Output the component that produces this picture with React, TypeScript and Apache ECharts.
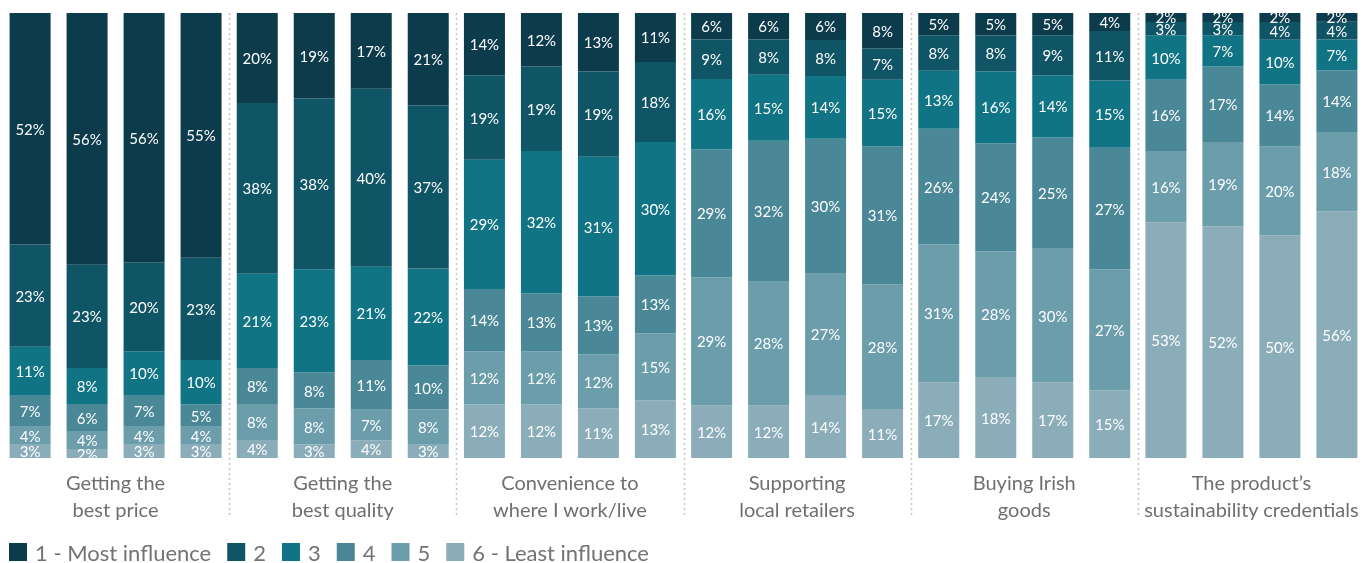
import React, { useEffect, useRef } from "react";
import * as echarts from "echarts";

const categories = [
  "Getting the\nbest price",
  "Getting the\nbest quality",
  "Convenience to\nwhere I work/live",
  "Supporting\nlocal retailers",
  "Buying Irish\ngoods",
  "The product’s\nsustainability credentials",
];

const levelNames = [
  "1 - Most influence",
  "2",
  "3",
  "4",
  "5",
  "6 - Least influence",
];

const levelColors = ["#0c3b4c", "#0f5566", "#107484", "#4a8898", "#6b9dab", "#8badb9"];

// Values per level: 4 bars for each of the 6 categories (in category order)
const level1 = [52, 56, 56, 55, 20, 19, 17, 21, 14, 12, 13, 11, 6, 6, 6, 8, 5, 5, 5, 4, 2, 2, 2, 2];
const level2 = [23, 23, 20, 23, 38, 38, 40, 37, 19, 19, 19, 18, 9, 8, 8, 7, 8, 8, 9, 11, 3, 3, 4, 4];
const level3 = [11, 8, 10, 10, 21, 23, 21, 22, 29, 32, 31, 30, 16, 15, 14, 15, 13, 16, 14, 15, 10, 7, 10, 7];
const level4 = [7, 6, 7, 5, 8, 8, 11, 10, 14, 13, 13, 13, 29, 32, 30, 31, 26, 24, 25, 27, 16, 17, 14, 14];
const level5 = [4, 4, 4, 4, 8, 8, 7, 8, 12, 12, 12, 15, 29, 28, 27, 28, 31, 28, 30, 27, 16, 19, 20, 18];
const level6 = [3, 2, 3, 3, 4, 3, 4, 3, 12, 12, 11, 13, 12, 12, 14, 11, 17, 18, 17, 15, 53, 52, 50, 56];

const levels = [level1, level2, level3, level4, level5, level6];
const barsPerCategory = 4;

export default function App() {
  const ref = useRef<HTMLDivElement>(null);

  useEffect(() => {
    if (!ref.current) return;
    const chart = echarts.init(ref.current, null, { renderer: "svg" });
    const font = "Lato, 'Noto Sans', sans-serif";

    const series: any[] = [];
    for (let w = 0; w < barsPerCategory; w++) {
      // stack order bottom -> top: level 6 ... level 1
      for (let l = levels.length - 1; l >= 0; l--) {
        const data = categories.map((_, g) => {
          const idx = g * barsPerCategory + w;
          const total = levels.reduce((s, arr) => s + arr[idx], 0);
          return { value: (levels[l][idx] / total) * 100, raw: levels[l][idx] };
        });
        series.push({
          type: "bar",
          name: levelNames[l],
          stack: "w" + w,
          barWidth: 41,
          barGap: "39%",
          itemStyle: { color: levelColors[l] },
          label: {
            show: true,
            position: "inside",
            color: "#ffffff",
            fontFamily: font,
            fontSize: 15,
            lineHeight: 15,
            formatter: (p: any) => p.data.raw + "%",
          },
          data,
        });
      }
    }

    chart.setOption({
      animation: false,
      textStyle: { fontFamily: font },
      grid: { left: 2, right: 7, top: 13, bottom: 105, containLabel: false },
      legend: {
        data: levelNames,
        left: 4,
        top: 536,
        icon: "rect",
        itemWidth: 18,
        itemHeight: 18,
        itemGap: 16,
        textStyle: {
          fontSize: 22,
          lineHeight: 20,
          color: "#737373",
          fontFamily: font,
          padding: [0, 0, 0, 3],
        },
      },
      xAxis: {
        type: "category",
        data: categories,
        axisLine: { show: false },
        axisTick: { show: false },
        splitLine: { show: false },
        axisLabel: {
          interval: 0,
          margin: 10,
          color: "#6f6f6f",
          fontSize: 20,
          lineHeight: 27,
          fontFamily: font,
        },
      },
      yAxis: { type: "value", min: 0, max: 100, show: false },
      series,
    });

    // dotted separators between categories, positioned through the axes
    const centers = categories.map((c) => chart.convertToPixel({ xAxisIndex: 0 }, c) as number);
    const yTop = chart.convertToPixel({ yAxisIndex: 0 }, 100) as number;
    const yBase = chart.convertToPixel({ yAxisIndex: 0 }, 0) as number;
    const graphic: any[] = [];
    for (let i = 0; i < centers.length - 1; i++) {
      const x = Math.round((centers[i] + centers[i + 1]) / 2) + 0.5;
      graphic.push({
        type: "line",
        shape: { x1: x, y1: yTop, x2: x, y2: yBase + 57 },
        style: { stroke: "#c4c4c4", lineWidth: 1.5, lineDash: [2, 3] },
        silent: true,
      });
    }
    chart.setOption({ graphic });

    return () => chart.dispose();
  }, []);

  return (
    <div
      ref={ref}
      style={{ position: "fixed", left: 0, top: 0, width: 1372, height: 563 }}
    />
  );
}
